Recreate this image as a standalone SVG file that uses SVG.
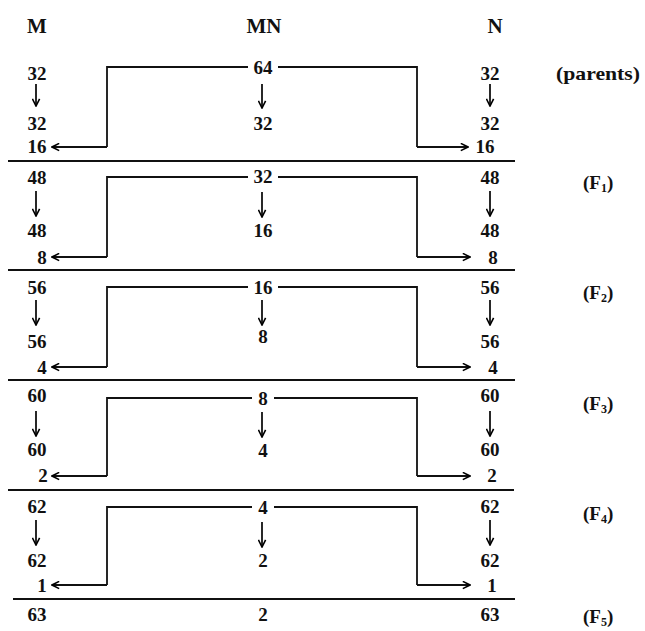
<svg xmlns="http://www.w3.org/2000/svg" width="645" height="631" viewBox="0 0 645 631">
<defs>
<marker id="ah" viewBox="0 0 10 10" refX="9" refY="5" markerWidth="9" markerHeight="9" markerUnits="userSpaceOnUse" orient="auto">
<path d="M1,1 L9,5 L1,9" fill="none" stroke="#000" stroke-width="1.8"/>
</marker>
<style>
text{font-family:"Liberation Serif","Times New Roman",serif;fill:#111;text-anchor:middle;font-weight:bold}
.h{font-size:21px}
.n{font-size:19px}
.g{font-size:19px;text-anchor:start}
.s{font-size:12px}
.ln{stroke:#111;stroke-width:1.8;fill:none}
.sep{stroke:#111;stroke-width:2.2;fill:none}
.ar{stroke:#111;stroke-width:1.8;fill:none;marker-end:url(#ah)}
</style>
</defs>
<rect width="645" height="631" fill="#fff"/>
<g id="headers">
<g id="hM"><text class="h" x="37" y="33">M</text></g>
<g id="hMN"><text class="h" x="264" y="33">MN</text></g>
<g id="hN"><text class="h" x="495" y="33">N</text></g>
</g>
<g id="separators">
<line class="sep" x1="8" y1="161" x2="515" y2="161"/>
<line class="sep" x1="8" y1="270" x2="515" y2="270"/>
<line class="sep" x1="8" y1="380" x2="515" y2="380"/>
<line class="sep" x1="8" y1="490" x2="514" y2="490"/>
<line class="sep" x1="13" y1="599" x2="515" y2="599"/>
</g>
<g id="connectors">
<!-- block 1 -->
<path class="ln" d="M248,67 H107 V147"/>
<path class="ln" d="M278,67 H417 V147"/>
<line class="ar" x1="107" y1="147" x2="52" y2="147"/>
<line class="ar" x1="417" y1="147" x2="468" y2="147"/>
<line class="ar" x1="36" y1="84" x2="36" y2="106"/>
<line class="ar" x1="262" y1="84" x2="262" y2="108"/>
<line class="ar" x1="490" y1="84" x2="490" y2="106"/>
<!-- block 2 -->
<path class="ln" d="M248,177 H107 V257"/>
<path class="ln" d="M278,177 H417 V257"/>
<line class="ar" x1="107" y1="257" x2="52" y2="257"/>
<line class="ar" x1="417" y1="257" x2="470" y2="257"/>
<line class="ar" x1="36" y1="191" x2="36" y2="216"/>
<line class="ar" x1="262" y1="192" x2="262" y2="217"/>
<line class="ar" x1="490" y1="191" x2="490" y2="216"/>
<!-- block 3 -->
<path class="ln" d="M248,287 H107 V367"/>
<path class="ln" d="M278,287 H417 V367"/>
<line class="ar" x1="107" y1="367" x2="52" y2="367"/>
<line class="ar" x1="417" y1="367" x2="470" y2="367"/>
<line class="ar" x1="36" y1="300" x2="36" y2="325"/>
<line class="ar" x1="262" y1="300" x2="262" y2="325"/>
<line class="ar" x1="490" y1="300" x2="490" y2="325"/>
<!-- block 4 -->
<path class="ln" d="M252,398 H107 V476"/>
<path class="ln" d="M274,398 H417 V476"/>
<line class="ar" x1="107" y1="476" x2="52" y2="476"/>
<line class="ar" x1="417" y1="476" x2="470" y2="476"/>
<line class="ar" x1="36" y1="411" x2="36" y2="436"/>
<line class="ar" x1="262" y1="412" x2="262" y2="437"/>
<line class="ar" x1="490" y1="411" x2="490" y2="436"/>
<!-- block 5 -->
<path class="ln" d="M252,507 H107 V585"/>
<path class="ln" d="M274,507 H417 V585"/>
<line class="ar" x1="107" y1="585" x2="52" y2="585"/>
<line class="ar" x1="417" y1="585" x2="470" y2="585"/>
<line class="ar" x1="36" y1="520" x2="36" y2="545"/>
<line class="ar" x1="262" y1="522" x2="262" y2="547"/>
<line class="ar" x1="490" y1="520" x2="490" y2="545"/>
</g>
<g id="parents">
<g id="p-M1"><text class="n" x="37" y="80">32</text></g>
<g id="p-M2"><text class="n" x="37" y="130">32</text></g>
<g id="p-M3"><text class="n" x="37" y="153">16</text></g>
<g id="p-MN1"><text class="n" x="263" y="74">64</text></g>
<g id="p-MN2"><text class="n" x="263" y="130">32</text></g>
<g id="p-N1"><text class="n" x="490" y="80">32</text></g>
<g id="p-N2"><text class="n" x="490" y="130">32</text></g>
<g id="p-N3"><text class="n" x="485" y="153">16</text></g>
<g id="p-label"><text class="g" x="556" y="80" textLength="84" lengthAdjust="spacingAndGlyphs">(parents)</text></g>
</g>
<g id="F1">
<g id="f1-M1"><text class="n" x="37" y="184">48</text></g>
<g id="f1-M2"><text class="n" x="37" y="237">48</text></g>
<g id="f1-M3"><text class="n" x="42" y="264">8</text></g>
<g id="f1-MN1"><text class="n" x="263" y="183">32</text></g>
<g id="f1-MN2"><text class="n" x="263" y="237">16</text></g>
<g id="f1-N1"><text class="n" x="490" y="184">48</text></g>
<g id="f1-N2"><text class="n" x="490" y="237">48</text></g>
<g id="f1-N3"><text class="n" x="493" y="264">8</text></g>
<g id="f1-label"><text class="g" x="583" y="189">(F<tspan class="s" dy="3">1</tspan><tspan dy="-3">)</tspan></text></g>
</g>
<g id="F2">
<g id="f2-M1"><text class="n" x="37" y="294">56</text></g>
<g id="f2-M2"><text class="n" x="37" y="348">56</text></g>
<g id="f2-M3"><text class="n" x="42" y="374">4</text></g>
<g id="f2-MN1"><text class="n" x="263" y="294">16</text></g>
<g id="f2-MN2"><text class="n" x="263" y="343">8</text></g>
<g id="f2-N1"><text class="n" x="490" y="294">56</text></g>
<g id="f2-N2"><text class="n" x="490" y="348">56</text></g>
<g id="f2-N3"><text class="n" x="493" y="374">4</text></g>
<g id="f2-label"><text class="g" x="583" y="299">(F<tspan class="s" dy="3">2</tspan><tspan dy="-3">)</tspan></text></g>
</g>
<g id="F3">
<g id="f3-M1"><text class="n" x="37" y="402">60</text></g>
<g id="f3-M2"><text class="n" x="37" y="456">60</text></g>
<g id="f3-M3"><text class="n" x="43" y="482">2</text></g>
<g id="f3-MN1"><text class="n" x="263" y="405">8</text></g>
<g id="f3-MN2"><text class="n" x="263" y="457">4</text></g>
<g id="f3-N1"><text class="n" x="490" y="402">60</text></g>
<g id="f3-N2"><text class="n" x="490" y="456">60</text></g>
<g id="f3-N3"><text class="n" x="492" y="482">2</text></g>
<g id="f3-label"><text class="g" x="583" y="410">(F<tspan class="s" dy="3">3</tspan><tspan dy="-3">)</tspan></text></g>
</g>
<g id="F4">
<g id="f4-M1"><text class="n" x="37" y="513">62</text></g>
<g id="f4-M2"><text class="n" x="37" y="567">62</text></g>
<g id="f4-M3"><text class="n" x="42" y="592">1</text></g>
<g id="f4-MN1"><text class="n" x="263" y="514">4</text></g>
<g id="f4-MN2"><text class="n" x="263" y="567">2</text></g>
<g id="f4-N1"><text class="n" x="490" y="513">62</text></g>
<g id="f4-N2"><text class="n" x="490" y="567">62</text></g>
<g id="f4-N3"><text class="n" x="492" y="592">1</text></g>
<g id="f4-label"><text class="g" x="583" y="520">(F<tspan class="s" dy="3">4</tspan><tspan dy="-3">)</tspan></text></g>
</g>
<g id="F5">
<g id="f5-M1"><text class="n" x="37" y="621">63</text></g>
<g id="f5-MN1"><text class="n" x="263" y="621">2</text></g>
<g id="f5-N1"><text class="n" x="490" y="621">63</text></g>
<g id="f5-label"><text class="g" x="583" y="623">(F<tspan class="s" dy="3">5</tspan><tspan dy="-3">)</tspan></text></g>
</g>
</svg>
